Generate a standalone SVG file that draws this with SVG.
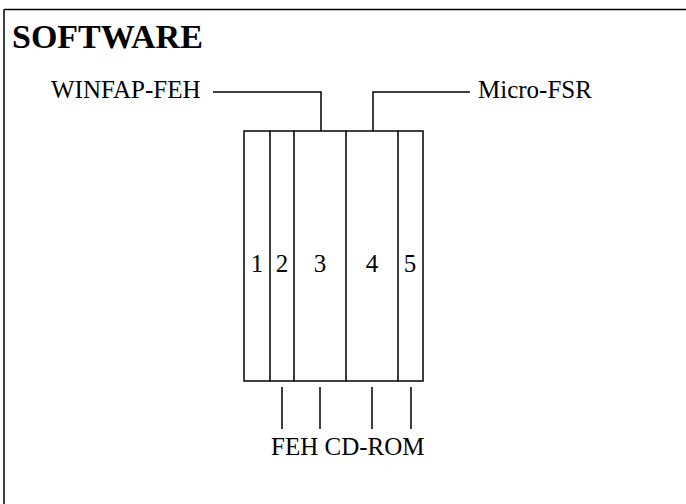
<svg xmlns="http://www.w3.org/2000/svg" width="686" height="504" viewBox="0 0 686 504">
<style>
.ln{stroke:#000;stroke-width:1.5;fill:none}
.t{font-family:"Liberation Serif",serif;font-size:25px;fill:#000}
.h{font-family:"Liberation Serif",serif;font-size:34px;font-weight:bold;fill:#000}
</style>
<rect width="686" height="504" fill="#fff"/>
<g id="frame">
<path class="ln" d="M4,9.5 H686 M4,9.5 V504" stroke-width="2"/>
<text class="h" x="12" y="48">SOFTWARE</text>
</g>
<g id="disk">
<rect class="ln" x="244" y="131" width="179" height="250"/>
<path class="ln" d="M270,131 V381 M294,131 V381 M346,131 V381 M398,131 V381"/>
<text class="t" x="257" y="272" text-anchor="middle">1</text>
<text class="t" x="282" y="272" text-anchor="middle">2</text>
<text class="t" x="320" y="272" text-anchor="middle">3</text>
<text class="t" x="372" y="272" text-anchor="middle">4</text>
<text class="t" x="410" y="272" text-anchor="middle">5</text>
</g>
<g id="winfap"><text class="t" x="51" y="98">WINFAP-FEH</text></g>
<g id="microfsr"><text class="t" x="478" y="98">Micro-FSR</text></g>
<g id="fehcd"><text class="t" x="271" y="455">FEH CD-ROM</text></g>
<g id="connectors">
<path class="ln" d="M213,92 H321 V131"/>
<path class="ln" d="M470,92 H373 V131"/>
<path class="ln" d="M282,387 V429 M320,387 V429 M372,387 V429 M411,387 V429"/>
</g>
</svg>
